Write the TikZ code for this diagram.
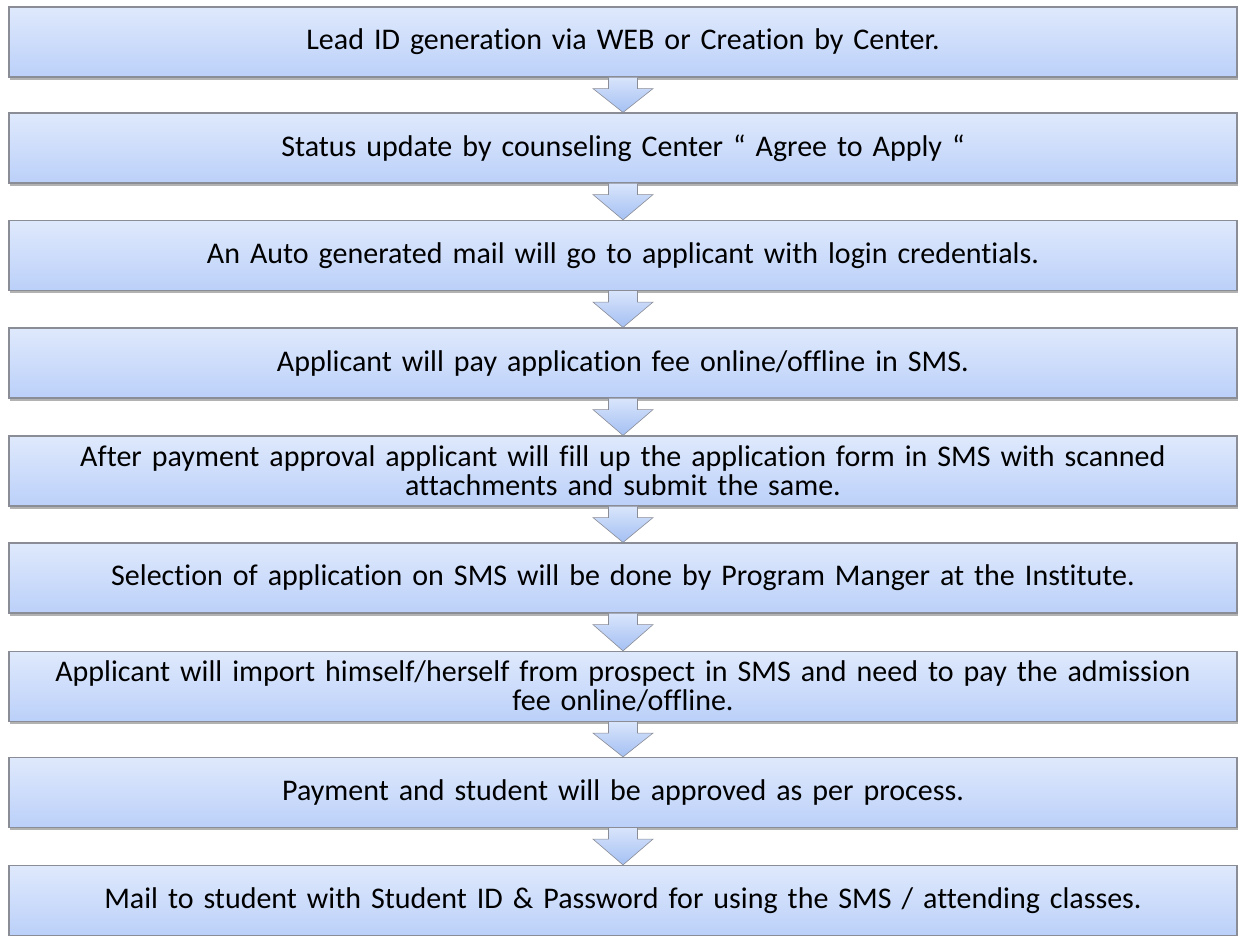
\documentclass[tikz,border=0pt]{standalone}
\usepackage{fontspec}
\setmainfont{Carlito}[Ligatures=NoCommon]
\usetikzlibrary{positioning,calc,shadows}
\definecolor{boxtop}{RGB}{223,233,252}
\definecolor{boxbottom}{RGB}{187,208,249}
\definecolor{boxedge}{RGB}{138,140,150}
\definecolor{arrowtop}{RGB}{216,228,251}
\definecolor{arrowbottom}{RGB}{164,192,243}
\tikzset{
    % Process step boxes
    stepbox/.style={
        rectangle, draw=boxedge, line width=1.2pt,
        top color=boxtop, bottom color=boxbottom,
        minimum width=1228pt, minimum height=70pt,
        text width=1224pt, align=center, inner sep=0pt,
        font=\fontsize{30}{29}\selectfont,
        drop shadow={shadow xshift=1pt, shadow yshift=-2.5pt, opacity=0.3, fill=black}
    },
    % Block arrow from one step down to the next
    downarrow/.style={
        draw=boxedge, line width=0.6pt, line join=miter,
        top color=arrowtop, bottom color=arrowbottom,
        to path={
            ($(\tikztostart)+(-14.5,0)$) -- ($(\tikztostart)+(-14.5,11)$)
            -- ($(\tikztostart)+(-30,11)$) -- (\tikztotarget)
            -- ($(\tikztostart)+(30,11)$) -- ($(\tikztostart)+(14.5,11)$)
            -- ($(\tikztostart)+(14.5,0)$)
        }
    }
}

\begin{document}
\begin{tikzpicture}[x=1pt,y=-1pt]

\useasboundingbox (0,0) rectangle (1238,935);

% Process steps
\node[stepbox] (lead) at (623,42) {Lead ID generation via WEB or Creation by Center.};
\node[stepbox] (status) at (623,148) {Status update by counseling Center “ Agree to Apply “};
\node[stepbox] (automail) at (623,255.5) {An Auto generated mail will go to applicant with login credentials.};
\node[stepbox] (appfee) at (623,363) {Applicant will pay application fee online/offline in SMS.};
\node[stepbox] (form) at (623,471) {After payment approval applicant will fill up the application form in SMS with scanned\\attachments and submit the same.};
\node[stepbox] (select) at (623,578) {Selection of application on SMS will be done by Program Manger at the Institute.};
\node[stepbox] (import) at (623,686.5) {Applicant will import himself/herself from prospect in SMS and need to pay the admission\\fee online/offline.};
\node[stepbox] (approve) at (623,792.5) {Payment and student will be approved as per process.};
\node[stepbox] (finalmail) at (623,900.5) {Mail to student with Student ID \& Password for using the SMS / attending classes.};

% Arrows between steps
\draw[downarrow] (lead.south) to (status.north);
\draw[downarrow] (status.south) to (automail.north);
\draw[downarrow] (automail.south) to (appfee.north);
\draw[downarrow] (appfee.south) to (form.north);
\draw[downarrow] (form.south) to (select.north);
\draw[downarrow] (select.south) to (import.north);
\draw[downarrow] (import.south) to (approve.north);
\draw[downarrow] (approve.south) to (finalmail.north);

\end{tikzpicture}
\end{document}
